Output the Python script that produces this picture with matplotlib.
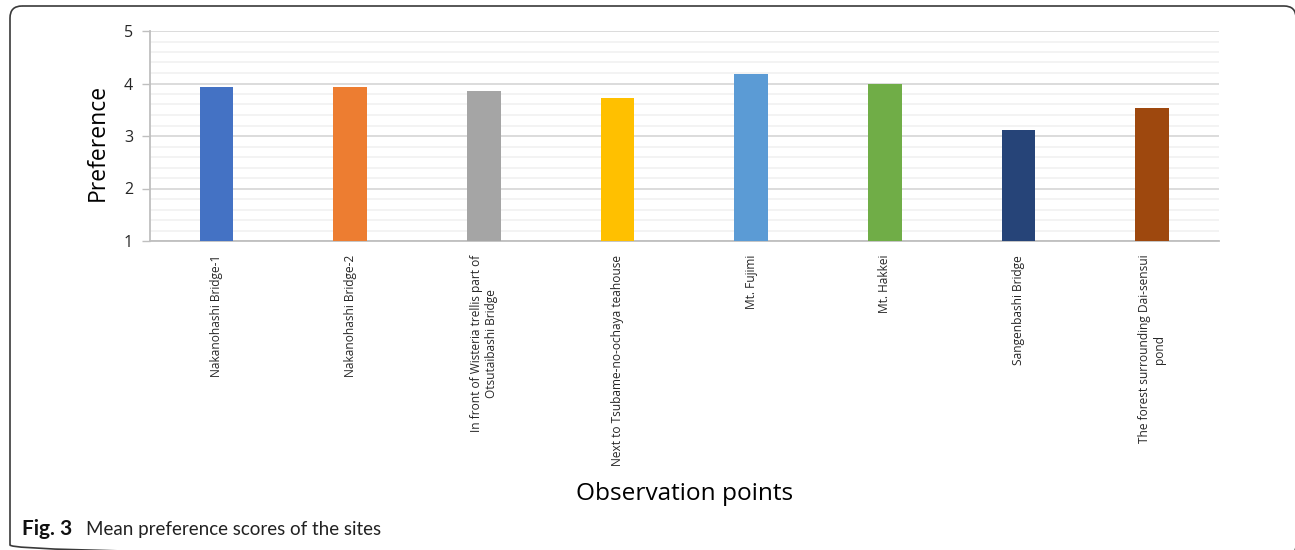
import matplotlib

matplotlib.use("Agg")
import matplotlib.pyplot as plt
import numpy as np
from matplotlib.patches import FancyBboxPatch
from matplotlib.ticker import MultipleLocator

sites = [
    "Nakanohashi Bridge-1",
    "Nakanohashi Bridge-2",
    "In front of Wisteria trellis part of\nOtsutaibashi Bridge",
    "Next to Tsubame-no-ochaya teahouse",
    "Mt. Fujimi",
    "Mt. Hakkei",
    "Sangenbashi Bridge",
    "The forest surrounding Dai-sensui\npond",
]
mean_scores = [3.94, 3.94, 3.86, 3.72, 4.19, 4.00, 3.11, 3.53]
bar_colors = ["#4472C4", "#ED7D31", "#A5A5A5", "#FFC000",
              "#5B9BD5", "#70AD47", "#264478", "#9E480E"]
y_ticks = [1, 2, 3, 4, 5]

W, H = 1295, 550
fig = plt.figure(figsize=(W / 100, H / 100), dpi=100)
fig.patch.set_facecolor("white")

ax = fig.add_axes([149.7 / W, 1 - 241 / H, (1219 - 149.7) / W, 210 / H])
x = np.arange(len(sites))
ax.bar(x, np.array(mean_scores) - 1, bottom=1, width=0.25,
       color=bar_colors, zorder=3)

ax.set_xlim(-0.5, len(sites) - 0.5)
ax.set_ylim(1, 5)
ax.set_yticks(y_ticks)
ax.yaxis.set_minor_locator(MultipleLocator(0.2))
ax.grid(axis="y", which="major", color="#d9d9d9", lw=1.3, zorder=0)
ax.grid(axis="y", which="minor", color="#f0f0f0", lw=1.1, zorder=0)
ax.tick_params(axis="y", which="major", length=6, width=1, color="#bfbfbf",
               pad=6, labelsize=11.5, labelcolor="#262626")
ax.tick_params(axis="y", which="minor", length=0)
for lab in ax.get_yticklabels():
    lab.set_fontfamily("Open Sans")

ax.set_xticks(x)
ax.set_xticklabels(sites, rotation=90, fontsize=8.6, family="Open Sans",
                   color="#262626", va="top", ha="center", multialignment="center")
ax.tick_params(axis="x", length=0, pad=10)

for side in ("top", "right"):
    ax.spines[side].set_visible(False)
for side in ("left", "bottom"):
    ax.spines[side].set_color("#bfbfbf")
    ax.spines[side].set_linewidth(1.3)

fig.text(98 / W, 1 - 142 / H, "Preference", rotation=90, ha="center",
         va="center", fontsize=16.5, family="Open Sans", color="#000000")
fig.text(685 / W, 1 - 494 / H, "Observation points", ha="center",
         va="center", fontsize=17.6, family="Open Sans", color="#000000")

# caption and rounded frame drawn in pixel space
over = fig.add_axes([0, 0, 1, 1], facecolor="none")
over.set_xlim(0, W)
over.set_ylim(H, 0)
over.set_axis_off()
frame = FancyBboxPatch((10, 6), 1286, 551, boxstyle="round,pad=0,rounding_size=12",
                       fc="none", ec="#3a3a3a", lw=1.2, clip_on=False)
over.add_patch(frame)
over.text(22, 535, "Fig. 3", fontsize=15, fontweight="bold", family="Lato",
          va="baseline", ha="left", color="#111111")
over.text(86, 535, "Mean preference scores of the sites", fontsize=13.5,
          family="Lato", va="baseline", ha="left", color="#222222")

fig.savefig("out.png", dpi=100, facecolor="white")
